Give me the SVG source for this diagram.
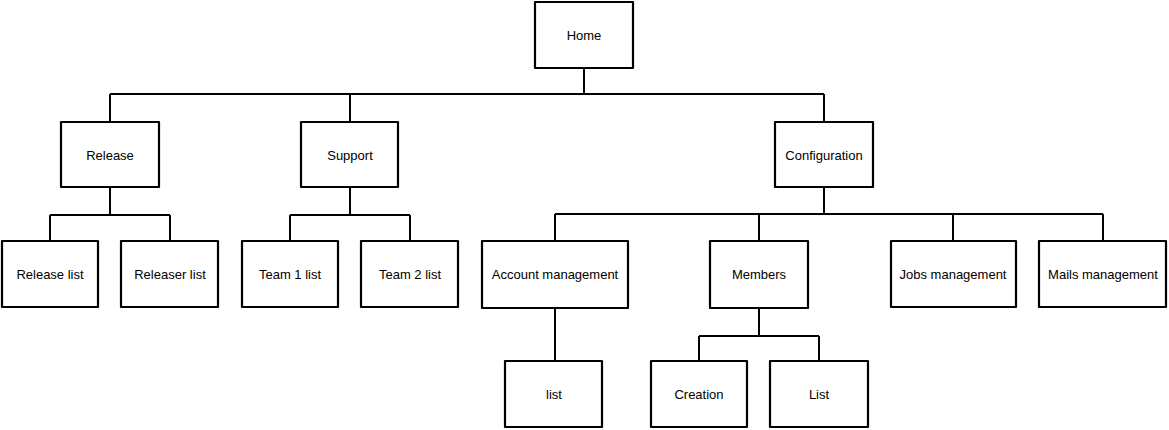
<svg xmlns="http://www.w3.org/2000/svg" width="1169" height="430" viewBox="0 0 1169 430">
<style>
.box{fill:#fff;stroke:#000;stroke-width:2.2;stroke-linejoin:round}
.sh{fill:none;stroke:#444;stroke-width:1.2;opacity:.5}
.lbl{font-family:"Liberation Sans",Arial,sans-serif;font-size:13px;fill:#000;text-anchor:middle;dominant-baseline:central}
.c{fill:none;stroke:#000;stroke-width:2}
</style>
<rect width="1169" height="430" fill="#fff"/>
<g id="connectors">
<path class="c" d="M584 68V94M110 94H824M110 94V122M350 94V122M824 94V122"/>
<path class="c" d="M110 187V215M50 215H170M50 215V241M170 215V241"/>
<path class="c" d="M350 187V215M290 215H410M290 215V241M410 215V241"/>
<path class="c" d="M824 187V214M555 214H1103M555 214V241M759 214V241M953 214V241M1103 214V241"/>
<path class="c" d="M555 308V361"/>
<path class="c" d="M759 308V336M699 336H819M699 336V361M819 336V361"/>
</g>
<g id="home"><rect class="box" x="535" y="2" width="98" height="66"/><text class="lbl" x="584" y="35">Home</text></g>
<g id="release"><rect class="box" x="61" y="122" width="98" height="65"/><text class="lbl" x="110" y="155">Release</text></g>
<g id="support"><rect class="box" x="301" y="122" width="97" height="65"/><text class="lbl" x="350" y="155">Support</text></g>
<g id="configuration"><rect class="box" x="775" y="122" width="98" height="65"/><text class="lbl" x="824" y="155">Configuration</text></g>
<g id="release-list"><rect class="box" x="2" y="241" width="96" height="66"/><text class="lbl" x="50" y="274">Release list</text></g>
<g id="releaser-list"><rect class="box" x="121" y="241" width="97" height="66"/><text class="lbl" x="170" y="274">Releaser list</text></g>
<g id="team1-list"><rect class="box" x="242" y="241" width="96" height="66"/><text class="lbl" x="290" y="274">Team 1 list</text></g>
<g id="team2-list"><rect class="box" x="361" y="241" width="97" height="66"/><text class="lbl" x="410" y="274">Team 2 list</text></g>
<g id="account-management"><rect class="box" x="482" y="241" width="146" height="67"/><text class="lbl" x="555" y="274">Account management</text></g>
<g id="members"><rect class="box" x="710" y="241" width="98" height="67"/><text class="lbl" x="759" y="274">Members</text></g>
<g id="jobs-management"><rect class="box" x="891" y="241" width="125" height="66"/><text class="lbl" x="953" y="274">Jobs management</text></g>
<g id="mails-management"><rect class="box" x="1039" y="241" width="127" height="66"/><text class="lbl" x="1103" y="274">Mails management</text></g>
<g id="list"><rect class="box" x="505" y="361" width="97" height="66"/><text class="lbl" x="554" y="394">list</text></g>
<g id="creation"><rect class="box" x="651" y="361" width="96" height="66"/><text class="lbl" x="699" y="394">Creation</text></g>
<g id="list2"><rect class="box" x="770" y="361" width="98" height="66"/><text class="lbl" x="819" y="394">List</text></g>
</svg>
